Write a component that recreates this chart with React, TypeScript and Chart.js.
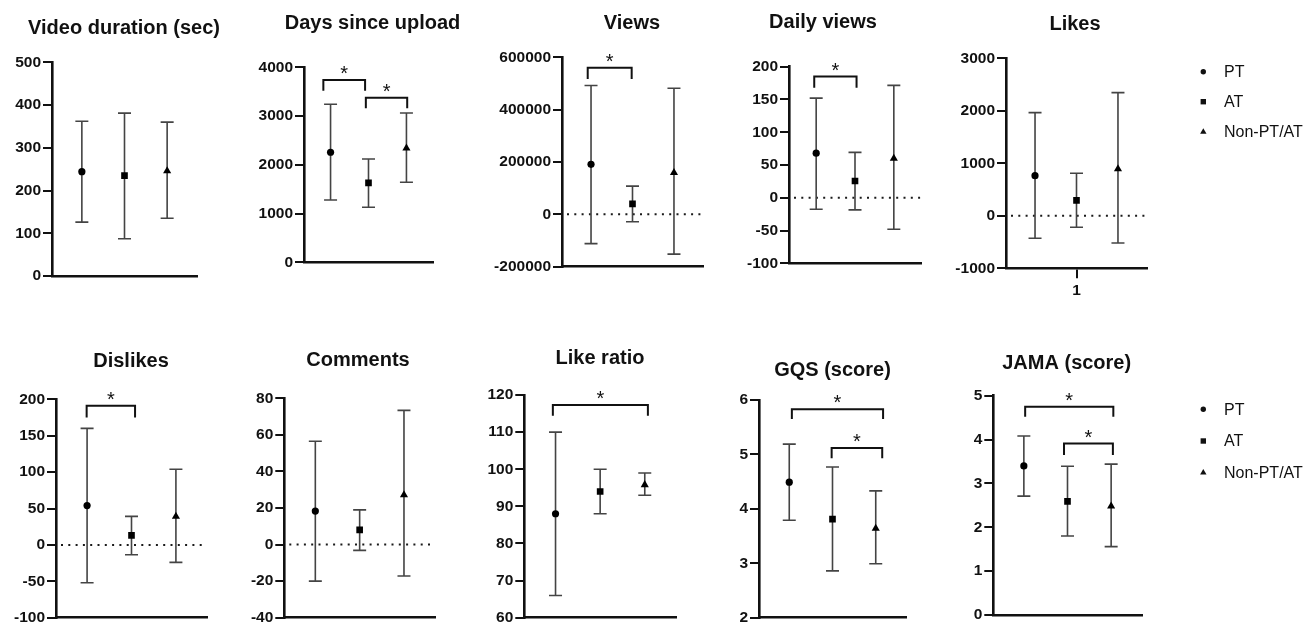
import React, { useEffect, useRef } from "react";
import { Chart, registerables } from "chart.js";

Chart.register(...registerables);

// ---------- data ----------
const panelTitles = [
  "Video duration (sec)",
  "Days since upload",
  "Views",
  "Daily views",
  "Likes",
  "Dislikes",
  "Comments",
  "Like ratio",
  "GQS (score)",
  "JAMA (score)",
];
const groupNames = ["PT", "AT", "Non-PT/AT"];
const groupX = [1, 2, 3];

const ptMean = [244, 2257, 191000, 68, 765, 54, 18.3, 88, 4.49, 3.4];
const ptLow = [126, 1279, -112000, -17.5, -429, -52, -20, 66, 3.79, 2.71];
const ptHigh = [362, 3241, 492000, 152, 1965, 160, 56.5, 110, 5.19, 4.08];

const atMean = [235, 1628, 40000, 25.6, 295, 13, 8, 94, 3.81, 2.59];
const atLow = [87, 1130, -28000, -18.5, -219, -13.5, -3.2, 88, 2.86, 1.8];
const atHigh = [381, 2120, 108000, 69.3, 810, 39.2, 19, 100, 4.77, 3.39];

const nonMean = [246, 2339, 159000, 60, 892, 39, 27.2, 95.8, 3.64, 2.48];
const nonLow = [135, 1642, -152000, -48, -517, -24, -17.2, 93, 2.99, 1.56];
const nonHigh = [360, 3063, 481500, 171.5, 2346, 104, 73.4, 99, 4.33, 3.44];

const yMin = [0, 0, -200000, -100, -1000, -100, -40, 60, 2, 0];
const yMax = [500, 4000, 600000, 200, 3000, 200, 80, 120, 6, 5];
const yStep = [100, 1000, 200000, 50, 1000, 50, 20, 10, 1, 1];
const xTickLabels = ["", "", "", "", "1", "", "", "", "", ""];

// significance brackets (panel, x from, x to, bar level, leg end level)
const bracketPanel = [1, 1, 2, 3, 5, 7, 8, 8, 9, 9];
const bracketFrom = [0.81, 1.93, 0.92, 0.95, 0.99, 0.94, 1.06, 1.98, 1.03, 1.92];
const bracketTo = [1.91, 3.02, 1.98, 2.04, 2.08, 3.07, 3.17, 3.15, 3.05, 3.04];
const bracketTop = [3740, 3377, 560000, 185, 191, 117.3, 5.83, 5.12, 4.75, 3.91];
const bracketLeg = [3520, 3160, 517000, 168, 175, 114.4, 5.65, 4.93, 4.52, 3.65];
const bracketLabel = ["*", "*", "*", "*", "*", "*", "*", "*", "*", "*"];

// ---------- layout (page pixels) ----------
const layoutBoxes = [
  { l: 52, r: 197, t: 62.3, b: 276, tx: 124, ty: 28, row: 0 },
  { l: 304, r: 433, t: 67.3, b: 262.3, tx: 372.5, ty: 23.3, row: 0 },
  { l: 562, r: 703, t: 57.3, b: 266.7, tx: 632, ty: 23, row: 0 },
  { l: 789, r: 921, t: 66.7, b: 263.3, tx: 823, ty: 22, row: 0 },
  { l: 1006, r: 1147, t: 58.3, b: 268.3, tx: 1075, ty: 24, row: 0 },
  { l: 56, r: 207, t: 399.3, b: 622.7, tx: 131, ty: 361.7, row: 1 },
  { l: 284.3, r: 435, t: 398.3, b: 623.3, tx: 358, ty: 360.7, row: 1 },
  { l: 524.3, r: 676, t: 395, b: 620, tx: 600, ty: 358.3, row: 1 },
  { l: 759, r: 906, t: 400, b: 619.3, tx: 832.5, ty: 370, row: 1 },
  { l: 993.3, r: 1141.7, t: 395.7, b: 615, tx: 1066.7, ty: 363, row: 1 },
];
const legendPanels = [4, 9];
const legendYs = [
  [71.7, 101.7, 131.7],
  [409.3, 441, 472.3],
];
const legendMarkerX = 1203.3;
const legendTextX = 1224;

const FONT = "'Liberation Sans', Arial, Helvetica, sans-serif";
Chart.defaults.font.family = FONT;

function geom(i: number) {
  const b = layoutBoxes[i];
  const cx0 = Math.max(0, Math.round(b.l - 70));
  const cy0 = b.row === 0 ? 0 : 330;
  const ch = b.row === 0 ? 320 : 299;
  const cw = legendPanels.includes(i) ? 1311 - cx0 : Math.round(b.r - cx0 + 34);
  return { ...b, cx0, cy0, cw, ch };
}

function drawMarker(ctx: CanvasRenderingContext2D, style: number, x: number, y: number, s: number) {
  ctx.beginPath();
  if (style === 0) {
    ctx.arc(x, y, s, 0, Math.PI * 2);
  } else if (style === 1) {
    ctx.rect(x - s, y - s, 2 * s, 2 * s);
  } else {
    const h = s * 1.9;
    ctx.moveTo(x, y - h * 0.62);
    ctx.lineTo(x + s * 1.1, y + h * 0.38);
    ctx.lineTo(x - s * 1.1, y + h * 0.38);
    ctx.closePath();
  }
  ctx.fill();
}

function makeChart(canvas: HTMLCanvasElement, i: number) {
  const g = geom(i);
  const means = [ptMean[i], atMean[i], nonMean[i]];
  const lows = [ptLow[i], atLow[i], nonLow[i]];
  const highs = [ptHigh[i], atHigh[i], nonHigh[i]];
  const styles = ["circle", "rect", "triangle"];
  const radii = [3.6, 4.7, 4.7];
  const hasXLabel = xTickLabels[i] !== "";
  const xh = hasXLabel ? 30 : 4;

  const decor = {
    id: "panelDecor" + i,
    beforeDatasetsDraw(chart: any) {
      const ctx = chart.ctx as CanvasRenderingContext2D;
      const xs = chart.scales.x;
      const ys = chart.scales.y;
      const a = chart.chartArea;
      ctx.save();
      if (yMin[i] < 0) {
        const y0 = ys.getPixelForValue(0);
        ctx.setLineDash([2, 5.3]);
        ctx.lineWidth = 2;
        ctx.strokeStyle = "#1a1a1a";
        ctx.beginPath();
        ctx.moveTo(a.left + 5, y0);
        ctx.lineTo(a.right, y0);
        ctx.stroke();
        ctx.setLineDash([]);
      }
      ctx.strokeStyle = "#444";
      ctx.lineWidth = 1.6;
      const cap = 6.5;
      for (let k = 0; k < 3; k++) {
        const px = xs.getPixelForValue(groupX[k]);
        const yl = ys.getPixelForValue(lows[k]);
        const yh = ys.getPixelForValue(highs[k]);
        ctx.beginPath();
        ctx.moveTo(px, yh);
        ctx.lineTo(px, yl);
        ctx.moveTo(px - cap, yh);
        ctx.lineTo(px + cap, yh);
        ctx.moveTo(px - cap, yl);
        ctx.lineTo(px + cap, yl);
        ctx.stroke();
      }
      ctx.restore();
    },
    afterDatasetsDraw(chart: any) {
      const ctx = chart.ctx as CanvasRenderingContext2D;
      const xs = chart.scales.x;
      const ys = chart.scales.y;
      ctx.save();
      // brackets
      for (let b = 0; b < bracketPanel.length; b++) {
        if (bracketPanel[b] !== i) continue;
        const x1 = xs.getPixelForValue(bracketFrom[b]);
        const x2 = xs.getPixelForValue(bracketTo[b]);
        const yt = ys.getPixelForValue(bracketTop[b]);
        const yl = ys.getPixelForValue(bracketLeg[b]);
        ctx.strokeStyle = "#111";
        ctx.lineWidth = 2;
        ctx.beginPath();
        ctx.moveTo(x1, yl);
        ctx.lineTo(x1, yt);
        ctx.lineTo(x2, yt);
        ctx.lineTo(x2, yl);
        ctx.stroke();
        ctx.fillStyle = "#111";
        ctx.font = "20px " + FONT;
        ctx.textAlign = "center";
        ctx.textBaseline = "alphabetic";
        const m = ctx.measureText(bracketLabel[b]);
        const asc = m.actualBoundingBoxAscent || 14;
        const desc = m.actualBoundingBoxDescent || -7;
        const centerY = yt - 10;
        ctx.fillText(bracketLabel[b], (x1 + x2) / 2, centerY + (asc - desc) / 2);
      }
      // title
      ctx.fillStyle = "#111";
      ctx.font = "bold 20px " + FONT;
      ctx.textAlign = "center";
      ctx.textBaseline = "middle";
      ctx.fillText(panelTitles[i], g.tx - g.cx0, g.ty - g.cy0);
      // legend
      const li = legendPanels.indexOf(i);
      if (li >= 0) {
        const sizes = [2.7, 2.7, 2.9];
        for (let k = 0; k < 3; k++) {
          const y = legendYs[li][k] - g.cy0;
          ctx.fillStyle = "#111";
          drawMarker(ctx, k, legendMarkerX - g.cx0, y, sizes[k]);
          ctx.font = "16px " + FONT;
          ctx.textAlign = "left";
          ctx.textBaseline = "middle";
          ctx.fillText(groupNames[k], legendTextX - g.cx0, y + 1);
        }
      }
      ctx.restore();
    },
  };

  const tickFont = { family: FONT, size: 15.5, weight: "bold" as const };

  const xScale: any = {
    type: "linear",
    position: "bottom",
    min: 0.3,
    max: 3.7,
    afterFit: (s: any) => {
      s.height = xh;
    },
    ticks: {
      display: hasXLabel,
      font: tickFont,
      color: "#111",
      padding: 3,
      maxRotation: 0,
      callback: () => xTickLabels[i],
    },
    grid: {
      display: hasXLabel,
      drawOnChartArea: false,
      drawTicks: true,
      tickLength: 10,
      color: "#111",
      lineWidth: 2,
    },
    border: { display: true, color: "#111", width: 2.6 },
  };
  if (hasXLabel) {
    xScale.afterBuildTicks = (s: any) => {
      s.ticks = [{ value: 2 }];
    };
  }

  return new Chart(canvas, {
    type: "scatter",
    data: {
      datasets: groupNames.map((name, k) => ({
        label: name,
        data: [{ x: groupX[k], y: means[k] }],
        pointStyle: styles[k] as any,
        pointRadius: radii[k],
        pointHoverRadius: radii[k],
        backgroundColor: "#000",
        borderColor: "#000",
        borderWidth: 0,
      })),
    },
    options: {
      animation: false,
      responsive: false,
      events: [],
      layout: {
        padding: {
          left: 0,
          top: g.t - g.cy0,
          right: g.cw - (g.r - g.cx0),
          bottom: g.ch - (g.b - g.cy0) - xh,
        },
      },
      plugins: {
        legend: { display: false },
        title: { display: false },
        tooltip: { enabled: false },
      },
      scales: {
        x: xScale,
        y: {
          type: "linear",
          min: yMin[i],
          max: yMax[i],
          afterFit: (s: any) => {
            s.width = g.l - g.cx0;
          },
          ticks: {
            stepSize: yStep[i],
            font: tickFont,
            color: "#111",
            padding: 2,
            callback: (v: any) => String(v),
          },
          grid: {
            display: true,
            drawOnChartArea: false,
            drawTicks: true,
            tickLength: 9,
            color: "#111",
            lineWidth: 2,
          },
          border: { display: true, color: "#111", width: 2.6 },
        },
      },
    } as any,
    plugins: [decor],
  });
}

export default function App() {
  const refs = useRef<(HTMLCanvasElement | null)[]>([]);
  useEffect(() => {
    const charts = panelTitles.map((_, i) => makeChart(refs.current[i] as HTMLCanvasElement, i));
    return () => charts.forEach((c) => c.destroy());
  }, []);
  return (
    <div
      style={{
        position: "absolute",
        left: 0,
        top: 0,
        width: 1311,
        height: 629,
        background: "#fff",
        overflow: "hidden",
      }}
    >
      {panelTitles.map((t, i) => {
        const g = geom(i);
        return (
          <canvas
            key={t}
            ref={(el) => {
              refs.current[i] = el;
            }}
            width={g.cw}
            height={g.ch}
            style={{ position: "absolute", left: g.cx0, top: g.cy0, width: g.cw, height: g.ch }}
          />
        );
      })}
    </div>
  );
}
